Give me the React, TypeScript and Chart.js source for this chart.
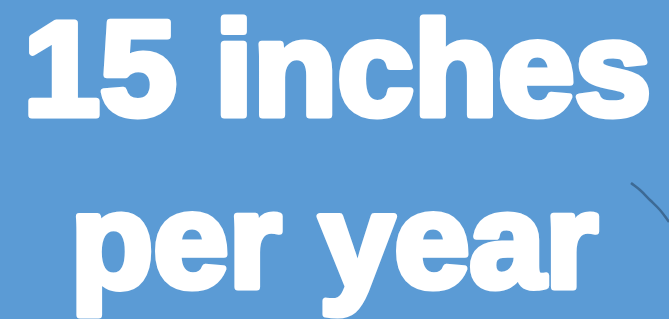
import React, { useEffect, useRef } from "react";
import { Chart, registerables } from "chart.js";

Chart.register(...registerables);

// Text lines shown on the graphic
const TEXT_LINES = ["15 inches", "per year"];

// Thin arc at the right edge (in pixel-like units)
const ARC_X = [631, 640, 650, 660, 669, 676];
const ARC_Y = [183, 190, 200, 210, 222, 232];

const BG = "#5B9BD5";
const ARC_COLOR = "#3D6A95";

// layout for each text line: [left, right, bottom]
const LINE_BOXES = [
  { left: 28, right: 650, bottom: 118 },
  { left: 75, right: 600, bottom: 290 },
];

const textPlugin = {
  id: "bigText",
  beforeDraw(chart: any) {
    const ctx = chart.ctx;
    ctx.save();
    ctx.fillStyle = BG;
    ctx.fillRect(0, 0, chart.width, chart.height);
    ctx.restore();
  },
  afterDraw(chart: any) {
    const ctx = chart.ctx;
    const size = 134;
    const stroke = 7;
    ctx.save();
    ctx.font = `bold ${size}px "Liberation Sans", Arial, sans-serif`;
    ctx.fillStyle = "#FFFFFF";
    ctx.strokeStyle = "#FFFFFF";
    ctx.lineWidth = stroke;
    ctx.lineJoin = "round";
    ctx.textBaseline = "alphabetic";
    ctx.textAlign = "left";
    TEXT_LINES.forEach((t, i) => {
      const box = LINE_BOXES[i];
      const m = ctx.measureText(t);
      const target = box.right - box.left - stroke;
      const sx = target / (m.actualBoundingBoxLeft + m.actualBoundingBoxRight);
      ctx.save();
      ctx.translate(box.left + stroke / 2, box.bottom - stroke / 2);
      ctx.scale(sx, 1);
      ctx.translate(m.actualBoundingBoxLeft, 0);
      ctx.strokeText(t, 0, 0);
      ctx.fillText(t, 0, 0);
      ctx.restore();
    });
    ctx.restore();
  },
};

export default function App() {
  const ref = useRef<HTMLCanvasElement | null>(null);
  useEffect(() => {
    document.body.style.margin = "0";
    const chart = new Chart(ref.current as HTMLCanvasElement, {
      type: "scatter",
      data: {
        datasets: [
          {
            data: ARC_X.map((x, i) => ({ x, y: ARC_Y[i] })),
            showLine: true,
            borderColor: ARC_COLOR,
            borderWidth: 2.5,
            pointRadius: 0,
            tension: 0.4,
            fill: false,
          },
        ],
      },
      options: {
        animation: false,
        responsive: false,
        layout: { padding: 0 },
        plugins: { legend: { display: false }, tooltip: { enabled: false }, title: { display: false } },
        scales: {
          x: { type: "linear", min: 0, max: 669, display: false },
          y: { type: "linear", min: 0, max: 319, reverse: true, display: false },
        },
      },
      plugins: [textPlugin],
    });
    return () => chart.destroy();
  }, []);
  return (
    <div style={{ width: 669, height: 319, background: BG }}>
      <canvas ref={ref} width={669} height={319} />
    </div>
  );
}
